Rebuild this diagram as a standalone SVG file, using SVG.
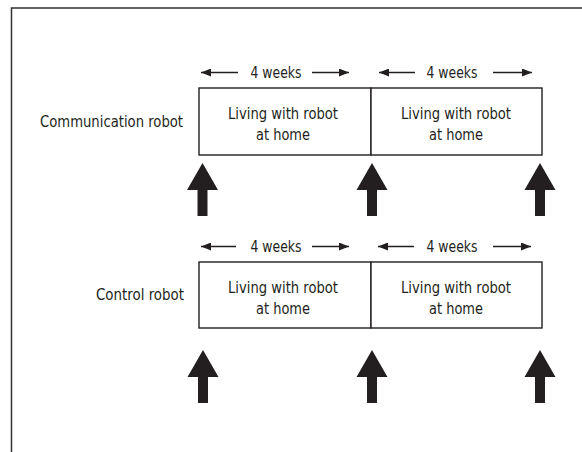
<svg xmlns="http://www.w3.org/2000/svg" width="582" height="452" viewBox="0 0 582 452">
<defs>
<style>
.frame{fill:none;stroke:#333;stroke-width:1.5}
.box{fill:#fff;stroke:#231f20;stroke-width:1.4}
.t{font-family:"DejaVu Sans Condensed","Liberation Sans Narrow","Liberation Sans",sans-serif;font-size:16px;fill:#231f20}
.mid{text-anchor:middle}
.end{text-anchor:end}
.dim{stroke:#231f20;stroke-width:1.3;fill:none}
.big{fill:#231f20}
</style>
<marker id="ah" viewBox="0 0 10 8" refX="10" refY="4" markerWidth="10" markerHeight="8" markerUnits="userSpaceOnUse" orient="auto">
<path d="M0,0 L10,4 L0,8 Z" fill="#231f20"/>
</marker>
<path id="up" d="M0,0 L15.5,27 L5,27 L5,53 L-5,53 L-5,27 L-15.5,27 Z"/>
</defs>
<rect width="582" height="452" fill="#fff"/>
<path class="frame" d="M11.5,452 L11.5,8 L582,8"/>

<g id="row1">
<g id="label1"><text class="t end" x="183" y="127" textLength="143" lengthAdjust="spacingAndGlyphs">Communication robot</text></g>
<g id="box1a"><rect class="box" x="199" y="88" width="172" height="67"/>
<text class="t mid" x="283" y="119" textLength="110" lengthAdjust="spacingAndGlyphs">Living with robot</text><text class="t mid" x="283" y="140" textLength="54" lengthAdjust="spacingAndGlyphs">at home</text></g>
<g id="box1b"><rect class="box" x="371" y="88" width="171" height="67"/>
<text class="t mid" x="456" y="119" textLength="110" lengthAdjust="spacingAndGlyphs">Living with robot</text><text class="t mid" x="456" y="140" textLength="54" lengthAdjust="spacingAndGlyphs">at home</text></g>
<g id="dur1a"><text class="t mid" x="276" y="78" textLength="51" lengthAdjust="spacingAndGlyphs">4 weeks</text></g>
<g id="dur1b"><text class="t mid" x="452" y="78" textLength="51" lengthAdjust="spacingAndGlyphs">4 weeks</text></g>
</g>

<g id="row2">
<g id="label2"><text class="t end" x="184" y="300" textLength="88" lengthAdjust="spacingAndGlyphs">Control robot</text></g>
<g id="box2a"><rect class="box" x="199" y="262" width="172" height="66"/>
<text class="t mid" x="283" y="293" textLength="110" lengthAdjust="spacingAndGlyphs">Living with robot</text><text class="t mid" x="283" y="314" textLength="54" lengthAdjust="spacingAndGlyphs">at home</text></g>
<g id="box2b"><rect class="box" x="371" y="262" width="171" height="66"/>
<text class="t mid" x="456" y="293" textLength="110" lengthAdjust="spacingAndGlyphs">Living with robot</text><text class="t mid" x="456" y="314" textLength="54" lengthAdjust="spacingAndGlyphs">at home</text></g>
<g id="dur2a"><text class="t mid" x="276" y="252" textLength="51" lengthAdjust="spacingAndGlyphs">4 weeks</text></g>
<g id="dur2b"><text class="t mid" x="452" y="252" textLength="51" lengthAdjust="spacingAndGlyphs">4 weeks</text></g>
</g>

<g id="connectors">
<line class="dim" x1="238" y1="72.5" x2="201" y2="72.5" marker-end="url(#ah)"/>
<line class="dim" x1="312" y1="72.5" x2="349" y2="72.5" marker-end="url(#ah)"/>
<line class="dim" x1="415" y1="72.5" x2="379" y2="72.5" marker-end="url(#ah)"/>
<line class="dim" x1="493" y1="72.5" x2="532" y2="72.5" marker-end="url(#ah)"/>
<line class="dim" x1="236" y1="246.5" x2="201" y2="246.5" marker-end="url(#ah)"/>
<line class="dim" x1="312" y1="246.5" x2="349" y2="246.5" marker-end="url(#ah)"/>
<line class="dim" x1="414" y1="246.5" x2="378" y2="246.5" marker-end="url(#ah)"/>
<line class="dim" x1="493" y1="246.5" x2="531" y2="246.5" marker-end="url(#ah)"/>
<use href="#up" class="big" x="202.5" y="163"/>
<use href="#up" class="big" x="372" y="163"/>
<use href="#up" class="big" x="540" y="163"/>
<use href="#up" class="big" x="203" y="350"/>
<use href="#up" class="big" x="372" y="350"/>
<use href="#up" class="big" x="540" y="350"/>
</g>
</svg>
